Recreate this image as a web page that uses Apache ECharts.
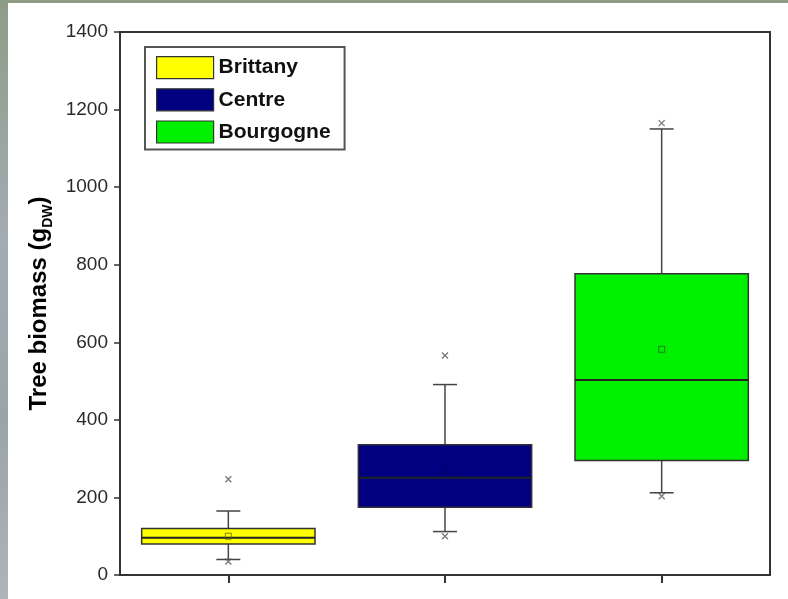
<!DOCTYPE html>
<html>
<head>
<meta charset="utf-8">
<script src="https://cdn.jsdelivr.net/npm/echarts@6/dist/echarts.min.js"></script>
<style>
  html, body { margin: 0; padding: 0; }
  body { width: 788px; height: 599px; position: relative; overflow: hidden;
         background: linear-gradient(180deg, #8e9c86 0%, #a3abb3 40%, #9aa4a8 70%, #b0b4b8 100%); }
  #panel { position: absolute; left: 8px; top: 3px; right: 0; bottom: 0; background: #ffffff; }
  #chart { position: absolute; left: 0; top: 0; width: 788px; height: 599px; }
</style>
</head>
<body>
<div id="panel"></div>
<div id="chart"></div>
<script>
// ---- data ----
const categories = ['Brittany', 'Centre', 'Bourgogne'];
const whiskerLow = [40, 112, 212];
const q1 = [80, 175, 295];
const median = [96, 251, 503];
const q3 = [120, 336, 777];
const whiskerHigh = [165, 491, 1150];
const means = [100, 270, 582];
const outliers = [
  [0, 247], [0, 35],
  [1, 566], [1, 100],
  [2, 1165], [2, 203]
];
const boxColors = ['#ffff00', '#000080', '#00f000'];
const meanColors = ['#665f00', '#000060', '#1a6a1a'];
const yTicks = { min: 0, max: 1400, interval: 200 };

const boxData = categories.map((c, i) => [i, whiskerLow[i], q1[i], median[i], q3[i], whiskerHigh[i]]);
const meanData = categories.map((c, i) => ({ value: [i, means[i]], itemStyle: { borderColor: meanColors[i] } }));

const chart = echarts.init(document.getElementById('chart'), null, { renderer: 'canvas' });
const font = 'Liberation Sans, Arial, Helvetica, sans-serif';

function renderBox(params, api) {
  const idx = api.value(0);
  const pMin = api.coord([idx, api.value(1)]);
  const pQ1 = api.coord([idx, api.value(2)]);
  const pMed = api.coord([idx, api.value(3)]);
  const pQ3 = api.coord([idx, api.value(4)]);
  const pMax = api.coord([idx, api.value(5)]);
  const bw = api.size([1, 0])[0] * 0.8;
  const cx = pMed[0];
  const capW = 24;
  const lineStyle = { stroke: '#444', lineWidth: 1.5 };
  return {
    type: 'group',
    children: [
      { type: 'line', shape: { x1: cx, y1: pMin[1], x2: cx, y2: pQ1[1] }, style: lineStyle },
      { type: 'line', shape: { x1: cx, y1: pQ3[1], x2: cx, y2: pMax[1] }, style: lineStyle },
      { type: 'line', shape: { x1: cx - capW / 2, y1: pMin[1], x2: cx + capW / 2, y2: pMin[1] }, style: lineStyle },
      { type: 'line', shape: { x1: cx - capW / 2, y1: pMax[1], x2: cx + capW / 2, y2: pMax[1] }, style: lineStyle },
      { type: 'rect', shape: { x: cx - bw / 2, y: pQ3[1], width: bw, height: pQ1[1] - pQ3[1] },
        style: { fill: boxColors[idx], stroke: '#333', lineWidth: 1.5 } },
      { type: 'line', shape: { x1: cx - bw / 2, y1: pMed[1], x2: cx + bw / 2, y2: pMed[1] },
        style: { stroke: '#222', lineWidth: 2 } }
    ]
  };
}

const option = {
  animation: false,
  backgroundColor: 'transparent',
  textStyle: { fontFamily: font },
  grid: { left: 120, top: 32, right: 18, bottom: 24, show: true, borderColor: '#333', borderWidth: 2, backgroundColor: 'transparent' },
  legend: {
    left: 145, top: 47, orient: 'vertical',
    data: categories,
    icon: 'rect', itemWidth: 57, itemHeight: 22, itemGap: 9,
    borderColor: '#555', borderWidth: 2, backgroundColor: '#fff',
    padding: [9, 14, 6, 11],
    selectedMode: false,
    itemStyle: { borderColor: '#333', borderWidth: 1.2 },
    textStyle: { fontFamily: font, fontWeight: 'bold', fontSize: 21, color: '#111', padding: [12, 0, 0, 0] }
  },
  xAxis: {
    type: 'category', data: categories, boundaryGap: true,
    axisLine: { show: true, lineStyle: { color: '#333', width: 2 } },
    axisTick: { show: true, alignWithLabel: true, length: 8, lineStyle: { color: '#333', width: 2 } },
    axisLabel: { show: false },
    splitLine: { show: false }
  },
  yAxis: {
    type: 'value', min: yTicks.min, max: yTicks.max, interval: yTicks.interval,
    name: '{a|Tree biomass (g}{b|DW}{a|)}',
    nameLocation: 'middle', nameRotate: 90, nameGap: 60,
    nameTextStyle: {
      rich: {
        a: { fontFamily: font, fontWeight: 'bold', fontSize: 24, color: '#000', lineHeight: 30 },
        b: { fontFamily: font, fontWeight: 'bold', fontSize: 14, color: '#000', lineHeight: 30, verticalAlign: 'bottom' }
      }
    },
    axisLine: { show: true, lineStyle: { color: '#333', width: 2 } },
    axisTick: { show: true, length: 6, lineStyle: { color: '#333', width: 1.5 } },
    axisLabel: { fontFamily: font, fontSize: 19, color: '#2a2a2a', margin: 12, formatter: v => String(v) },
    splitLine: { show: false }
  },
  series: [
    { name: 'Brittany', type: 'bar', data: [], itemStyle: { color: boxColors[0] } },
    { name: 'Centre', type: 'bar', data: [], itemStyle: { color: boxColors[1] } },
    { name: 'Bourgogne', type: 'bar', data: [], itemStyle: { color: boxColors[2] } },
    {
      name: 'box', type: 'custom', renderItem: renderBox, data: boxData,
      encode: { x: 0, y: [1, 2, 3, 4, 5] }, z: 3
    },
    {
      name: 'outliers', type: 'scatter', data: outliers, z: 4,
      symbol: 'path://M0,0 L10,10 M10,0 L0,10', symbolSize: 6,
      itemStyle: { color: 'none', borderColor: '#555', borderWidth: 1.3 }
    },
    {
      name: 'mean', type: 'scatter', data: meanData, z: 5,
      symbol: 'rect', symbolSize: 6,
      itemStyle: { color: 'transparent', borderColor: '#444', borderWidth: 1 }
    }
  ]
};
chart.setOption(option);
</script>
</body>
</html>
